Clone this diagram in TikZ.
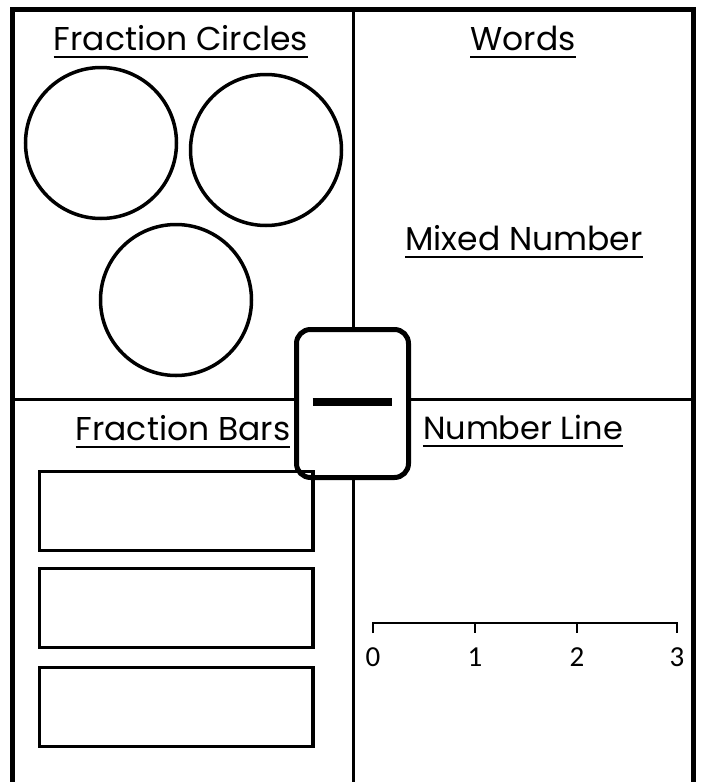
\documentclass[tikz,border=0pt]{standalone}
\usepackage{fontspec}
\newfontfamily\headfont{Poppins}
\newfontfamily\numfont{Carlito}

\begin{document}
\begin{tikzpicture}[
    x=1pt, y=-1pt,
    frame/.style={line width=5pt},
    divider/.style={line width=3pt},
    heading/.style={font=\headfont\fontsize{33}{33}\selectfont, anchor=base, inner sep=0pt},
    uline/.style={line width=2.5pt},
    ring/.style={draw, circle, line width=3.5pt, minimum size=151pt, inner sep=0pt},
    barbox/.style={line width=3.5pt},
    axis/.style={line width=2.5pt},
    numlbl/.style={font=\numfont\fontsize{29}{29}\selectfont, anchor=base, inner sep=0pt}
]

    % page size of the reference (705 x 782)
    \useasboundingbox (0,0) rectangle (705,782);

    % outer frame, open at the bottom
    \draw[frame] (12.5,782) -- (12.5,9.5) -- (693.5,9.5) -- (693.5,782);

    % quadrant dividers
    \draw[divider] (353,9.5) -- (353,782);
    \draw[divider] (12.5,399) -- (693.5,399);

    % headings
    \node[heading] (tcirc)  at (181,50)  {Fraction Circles};
    \node[heading] (twords) at (523,50)  {Words};
    \node[heading] (tmixed) at (524,250) {Mixed Number};
    \node[heading] (tbars)  at (183,440) {Fraction Bars};
    \node[heading, font=\headfont\fontsize{32}{32}\selectfont] (tline) at (523,439) {Number Line};
    \foreach \t in {tcirc,twords,tmixed,tbars,tline}
        \draw[uline] ([yshift=-7pt]\t.base west) -- ([yshift=-7pt]\t.base east);

    % fraction circles
    \node[ring] (c1) at (101,143) {};
    \node[ring] (c2) at (266,150) {};
    \node[ring] (c3) at (176,300) {};

    % centre card with the fraction bar
    \node[draw, fill=white, line width=5pt, rounded corners=14pt,
          minimum width=112pt, minimum height=148pt, inner sep=0pt] (card) at (352.5,403.5) {};
    \draw[line width=8pt] ([xshift=-40pt,yshift=1.5pt]card.center) -- ([xshift=39pt,yshift=1.5pt]card.center);

    % fraction bars
    \foreach \y in {471.5,568.5,667.5}
        \draw[barbox] (39.5,\y) rectangle (313,\y+79);

    % number line 0..3
    \coordinate (nl0) at (373,623);
    \coordinate (nl3) at (677,623);
    \draw[axis] ([yshift=-10pt]nl0) -- (nl0) -- (nl3) -- ([yshift=-10pt]nl3);
    \foreach \n/\x in {1/475,2/577}
        \draw[axis] (\x,623) -- (\x,633);
    \foreach \n/\x in {0/373,1/475,2/577,3/677}
        \node[numlbl] (n\n) at (\x,666) {\n};

\end{tikzpicture}
\end{document}
